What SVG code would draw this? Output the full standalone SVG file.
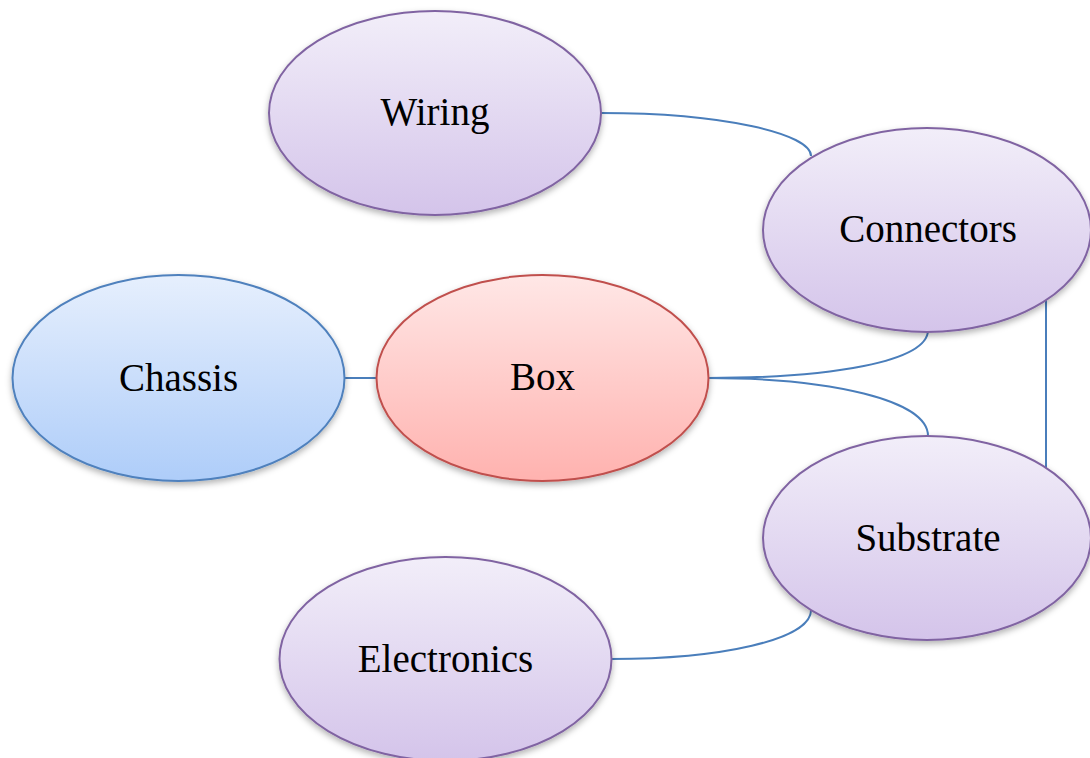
<svg xmlns="http://www.w3.org/2000/svg" width="1090" height="758" viewBox="0 0 1090 758">
  <defs>
    <linearGradient id="gPurple" x1="0" y1="0" x2="0" y2="1">
      <stop offset="0" stop-color="#f2eef9"/>
      <stop offset="1" stop-color="#d4c4ea"/>
    </linearGradient>
    <linearGradient id="gBlue" x1="0" y1="0" x2="0" y2="1">
      <stop offset="0" stop-color="#e6effd"/>
      <stop offset="1" stop-color="#aecdf9"/>
    </linearGradient>
    <linearGradient id="gRed" x1="0" y1="0" x2="0" y2="1">
      <stop offset="0" stop-color="#ffe7e6"/>
      <stop offset="1" stop-color="#ffb2af"/>
    </linearGradient>
    <filter id="shadow" x="-10%" y="-10%" width="120%" height="130%">
      <feDropShadow dx="0" dy="3" stdDeviation="3" flood-color="#000" flood-opacity="0.3"/>
    </filter>
  </defs>
  <style>
    .conn { fill: none; stroke: #4a7ebb; stroke-width: 2; }
    .purple { fill: url(#gPurple); stroke: #8064a2; stroke-width: 2; filter: url(#shadow); }
    .blue { fill: url(#gBlue); stroke: #4f81bd; stroke-width: 2; filter: url(#shadow); }
    .red { fill: url(#gRed); stroke: #c0504d; stroke-width: 2; filter: url(#shadow); }
    .label { font-family: "Liberation Serif", "DejaVu Serif", serif; font-size: 39px; fill: #000; text-anchor: middle; }
  </style>
  <rect width="1090" height="758" fill="#ffffff"/>
  <g id="connectors">
    <path class="conn" d="M601,113 C725,113 811,134 811,156"/>
    <path class="conn" d="M708,378 C830,378 928,362 928,330"/>
    <path class="conn" d="M708,378 C830,378 928,400 928,436"/>
    <path class="conn" d="M1046,290 L1046,470"/>
    <path class="conn" d="M611,659 C720,659 811,640 811,610"/>
    <path class="conn" d="M344,378 L378,378"/>
  </g>
  <g id="node-wiring">
    <ellipse class="purple" cx="435" cy="113" rx="166" ry="102"/>
    <text class="label" x="435" y="125">Wiring</text>
  </g>
  <g id="node-connectors">
    <ellipse class="purple" cx="927" cy="230" rx="164" ry="102"/>
    <text class="label" x="928" y="242">Connectors</text>
  </g>
  <g id="node-chassis">
    <ellipse class="blue" cx="178.5" cy="378" rx="166" ry="103"/>
    <text class="label" x="178.5" y="390.5">Chassis</text>
  </g>
  <g id="node-box">
    <ellipse class="red" cx="542.5" cy="378" rx="166" ry="103"/>
    <text class="label" x="542.5" y="390">Box</text>
  </g>
  <g id="node-substrate">
    <ellipse class="purple" cx="927" cy="538" rx="164" ry="102"/>
    <text class="label" x="928" y="551">Substrate</text>
  </g>
  <g id="node-electronics">
    <ellipse class="purple" cx="445.5" cy="659" rx="166" ry="102"/>
    <text class="label" x="445.5" y="671.5">Electronics</text>
  </g>
</svg>
